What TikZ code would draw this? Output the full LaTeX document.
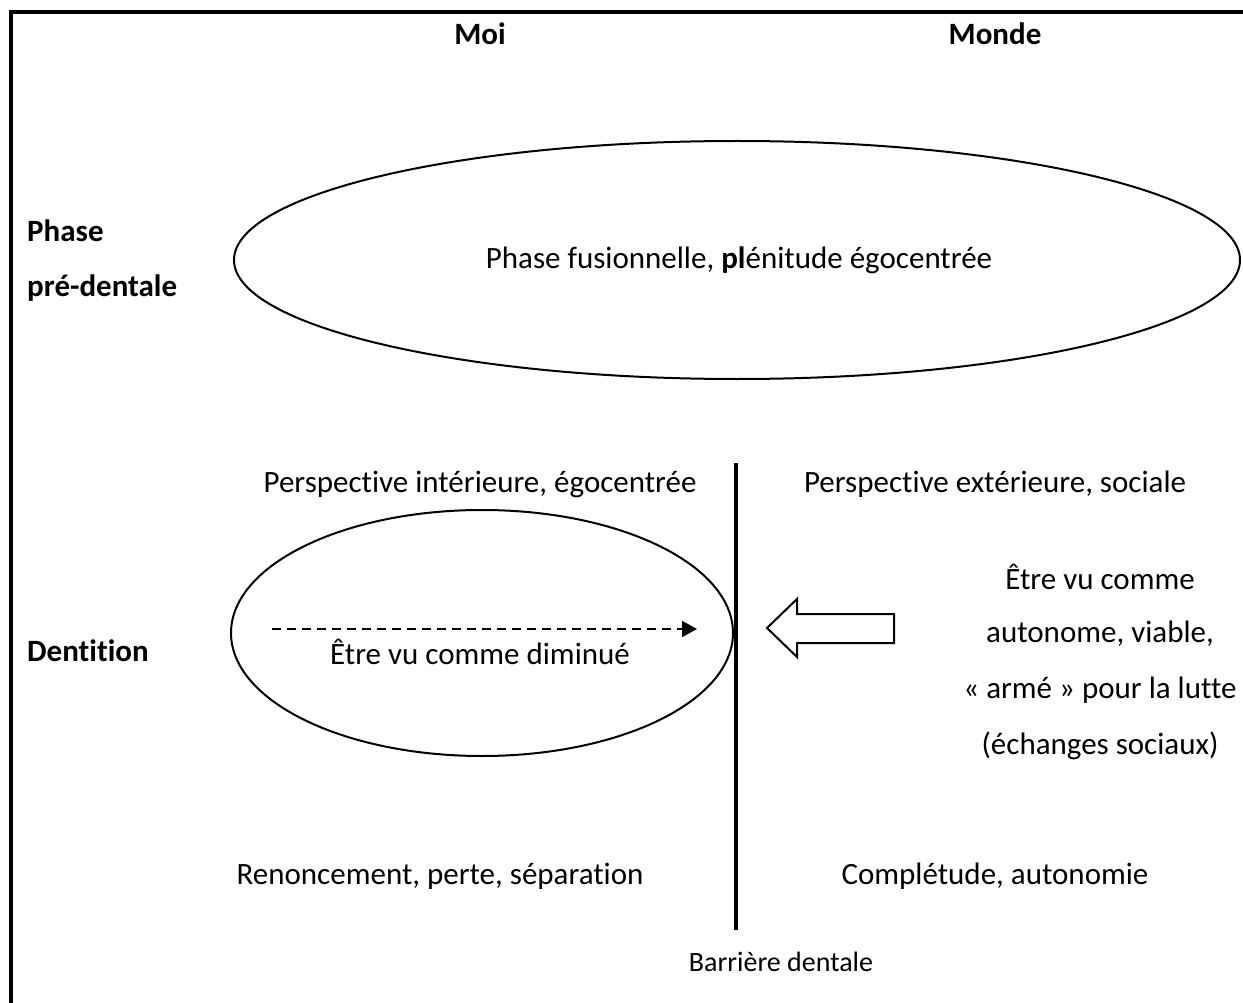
\documentclass[tikz,border=0pt]{standalone}
\usepackage{fontspec}
\setmainfont[Ligatures={NoCommon,NoRequired,NoContextual}]{Carlito}
\usetikzlibrary{calc}
\usetikzlibrary{arrows.meta}
\tikzset{txt/.style={inner sep=0pt, font=\fontsize{31}{37}\selectfont}}
\tikzset{hd/.style={txt, font=\fontsize{31}{37}\selectfont\bfseries}}

\begin{document}
\begin{tikzpicture}[x=1pt,y=-1pt]
    \useasboundingbox (0,0) rectangle (1243,1003);
    % cadre
    \draw[line width=4pt] (1243,12) -- (11,12) -- (11,1003);
    % colonnes et lignes
    \foreach \x/\y/\lab/\tx in {
      480/34/moi/Moi,
      995/34/monde/Monde%
    } {
      \node[hd] (\lab) at (\x, \y) {\tx};
    }
    \foreach \y/\lab/\tx in {
      231/ph1/Phase,
      288/ph2/pré-dentale,
      651/dent/Dentition%
    } {
      \node[hd, anchor=west] (\lab) at (27, \y) {\tx};
    }
    % phase pre-dentale
    \draw[line width=2pt] (737,260) ellipse (503 and 119);
    \node[txt] (fusion) at (739,260) {Phase fusionnelle, \textbf{pl}énitude égocentrée};
    % dentition
    \draw[line width=3.5pt] (736,463) -- (736,930);
    \node[txt, font=\fontsize{28}{33}\selectfont] (barriere) at (781,962) {Barrière dentale};
    \foreach \x/\y/\lab/\tx in {
      480/484/pint/{Perspective intérieure, égocentrée},
      995/484/pext/{Perspective extérieure, sociale},
      480/652/dimin/{Être vu comme diminué},
      1100/577/vu1/{Être vu comme},
      1100/634/vu2/{autonome, viable,},
      1100/690/vu3/{« armé » pour la lutte},
      1100/746/vu4/{(échanges sociaux)},
      440/876/renon/{Renoncement, perte, séparation},
      995/876/compl/{Complétude, autonomie}%
    } {
      \node[txt] (\lab) at (\x, \y) {\tx};
    }
    \draw[line width=2pt] (482,633) ellipse (251 and 123);
    \coordinate (da) at (272,629);
    \coordinate (db) at (697,629);
    \draw[line width=2pt, dash pattern=on 9pt off 6pt, -{Triangle[length=15pt,width=16pt]}] (da) -- (db);
    % fleche vers la barriere
    \draw[line width=2pt, line join=miter] (767,628) -- (797,599) -- (797,614) -- (894,614)
      -- (894,643) -- (797,643) -- (797,657) -- cycle;
\end{tikzpicture}
\end{document}
